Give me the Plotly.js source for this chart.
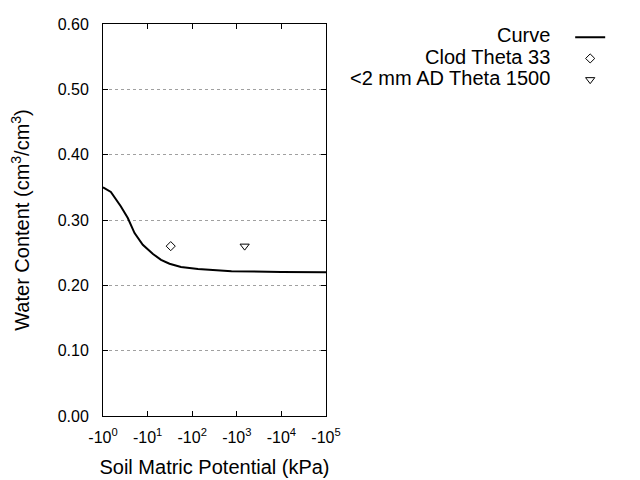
<!DOCTYPE html>
<html>
<head>
<meta charset="utf-8">
<script src="https://cdn.plot.ly/plotly-3.0.1.min.js"></script>
<style>html,body{margin:0;padding:0;background:#fff}</style>
</head>
<body>
<div id="chart" style="width:640px;height:480px"></div>
<script>
// Water retention curve (soil matric potential magnitude in kPa vs water content)
var curvePressure = [1, 1.5, 2.5, 3.6, 5.1, 7.8, 13.2, 20, 31, 56, 135, 760, 10000, 100000];
var curveTheta    = [0.350, 0.343, 0.321, 0.303, 0.280, 0.262, 0.248, 0.239, 0.233, 0.228, 0.225, 0.2215, 0.2205, 0.220];
var clodPressure = [33];
var clodTheta = [0.26];
var adPressure = [1500];
var adTheta = [0.26];
var seriesNames = ["Curve", "Clod Theta 33", "<2 mm AD Theta 1500"];
var xTickVals = [1, 10, 100, 1000, 10000, 100000];
var xTickText = ["-10<sup>0</sup>", "-10<sup>1</sup>", "-10<sup>2</sup>", "-10<sup>3</sup>", "-10<sup>4</sup>", "-10<sup>5</sup>"];

var FONT = "Liberation Sans, Arial, sans-serif";

var traces = [
  {x: curvePressure, y: curveTheta, mode: "lines", name: " ",
   line: {color: "#000", width: 2}},
  {x: clodPressure, y: clodTheta, mode: "markers", name: " ",
   marker: {symbol: "diamond-open", size: 7, color: "#000", line: {width: 1, color: "#000"}}},
  {x: adPressure, y: adTheta, mode: "markers", name: " ",
   marker: {symbol: "triangle-down-open", size: 8, color: "#000", line: {width: 1, color: "#000"}}}
];

var legendY = [0.971, 0.915, 0.862];
var annotations = seriesNames.map(function (n, i) {
  return {text: n.replace("<", "&lt;"), xref: "paper", yref: "paper", x: 2.013, y: legendY[i],
          xanchor: "right", yanchor: "middle", showarrow: false,
          font: {family: FONT, size: 20, color: "#000"}};
});

var layout = {
  width: 640, height: 480,
  margin: {l: 103, r: 314, t: 24, b: 64},
  paper_bgcolor: "#fff", plot_bgcolor: "#fff",
  font: {family: FONT, color: "#000"},
  showlegend: true,
  legend: {x: 2.095, xanchor: "left", y: 1.006, yanchor: "top",
           font: {family: FONT, size: 14}, bgcolor: "rgba(0,0,0,0)",
           itemwidth: 30},
  annotations: annotations,
  xaxis: {
    type: "log", range: [0, 5],
    tickvals: xTickVals, ticktext: xTickText,
    ticks: "inside", ticklen: 5, tickcolor: "#000", mirror: "ticks",
    showline: true, linecolor: "#000", linewidth: 1,
    showgrid: false, zeroline: false,
    tickfont: {family: FONT, size: 16},
    ticklabelstandoff: 7,
    title: {text: "Soil Matric Potential (kPa)", font: {family: FONT, size: 20}, standoff: 14}
  },
  yaxis: {
    range: [0, 0.6], dtick: 0.1, tick0: 0, tickformat: ".2f",
    ticks: "inside", ticklen: 5, tickcolor: "#000", mirror: "ticks",
    showline: true, linecolor: "#000", linewidth: 1,
    showgrid: true, gridcolor: "#a0a0a0", griddash: "dot", gridwidth: 1,
    zeroline: false,
    tickfont: {family: FONT, size: 16},
    ticklabelstandoff: 10,
    title: {text: "Water Content (cm<sup>3</sup>/cm<sup>3</sup>)", font: {family: FONT, size: 20}, standoff: 22}
  }
};

Plotly.newPlot("chart", traces, layout, {staticPlot: true, displayModeBar: false});
</script>
</body>
</html>
